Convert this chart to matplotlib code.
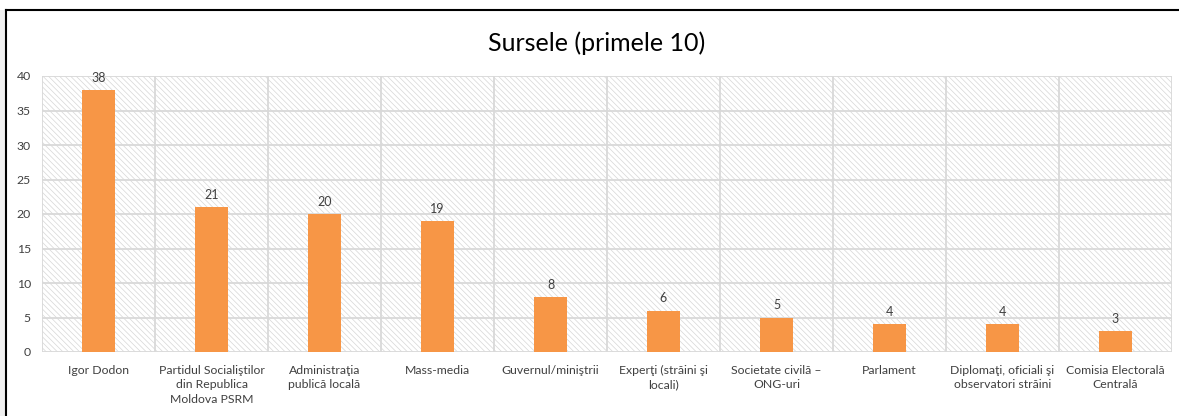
import matplotlib
matplotlib.use("Agg")
import matplotlib.pyplot as plt
from matplotlib.patches import Rectangle
from matplotlib.lines import Line2D

categories = [
    "Igor Dodon",
    "Partidul Socialiştilor\ndin Republica\nMoldova PSRM",
    "Administraţia\npublică locală",
    "Mass-media",
    "Guvernul/miniştrii",
    "Experţi (străini şi\nlocali)",
    "Societate civilă –\nONG-uri",
    "Parlament",
    "Diplomaţi, oficiali şi\nobservatori străini",
    "Comisia Electorală\nCentrală",
]
values = [38, 21, 20, 19, 8, 6, 5, 4, 4, 3]
yticks = [0, 5, 10, 15, 20, 25, 30, 35, 40]
title = "Sursele (primele 10)"

plt.rcParams['font.family'] = ['Lato', 'DejaVu Sans']
plt.rcParams['hatch.linewidth'] = 0.5
plt.rcParams['hatch.color'] = '#d6d6d6'

W, H = 1179, 416
fig = plt.figure(figsize=(W / 100, H / 100), dpi=100)

# left gray strip and chart border
fig.patches.append(Rectangle((0, 0), 6 / W, 1 - 10 / H, transform=fig.transFigure,
                             facecolor='#f0f0f0', edgecolor='none', zorder=0))
fig.lines.append(Line2D([6 / W, 1], [1 - 10 / H, 1 - 10 / H], transform=fig.transFigure,
                        color='black', lw=1.5))
fig.lines.append(Line2D([6 / W, 6 / W], [0, 1 - 10 / H], transform=fig.transFigure,
                        color='black', lw=1.5))

left, right, top, bottom = 42, 1172, 76, 352
ax = fig.add_axes([left / W, 1 - bottom / H, (right - left) / W, (bottom - top) / H])

n = len(categories)
x = list(range(n))
ax.set_xlim(-0.5, n - 0.5)
ax.set_ylim(0, 40)

# hatched background
ax.add_patch(Rectangle((0, 0), 1, 1, transform=ax.transAxes, facecolor='white',
                       edgecolor='#d6d6d6', hatch='\\\\\\\\\\\\', lw=0, zorder=0))

for y in yticks:
    ax.axhline(y, color='#d9d9d9', lw=1.3, zorder=1)
for i in range(n + 1):
    ax.axvline(i - 0.5, color='#d9d9d9', lw=1.3, zorder=1)

bars = ax.bar(x, values, width=0.285, color='#F79646', zorder=3)
for xi, v in zip(x, values):
    ax.annotate(str(v), (xi, v), xytext=(0, 4.5), textcoords='offset points',
                ha='center', va='bottom', fontsize=9, color='#404040')

for s in ax.spines.values():
    s.set_visible(False)
ax.set_yticks(yticks)
ax.set_xticks(x)
ax.set_xticklabels(categories, fontsize=8.8, color='#404040', linespacing=1.4,
                   va='top')
ax.tick_params(axis='both', length=0, labelsize=8.8, labelcolor='#404040')
ax.tick_params(axis='x', pad=9)
ax.tick_params(axis='y', pad=8)

fig.text(597 / W, 1 - 43 / H, title, ha='center', va='center', fontsize=18,
         color='black')

fig.savefig("out.png", dpi=100)
